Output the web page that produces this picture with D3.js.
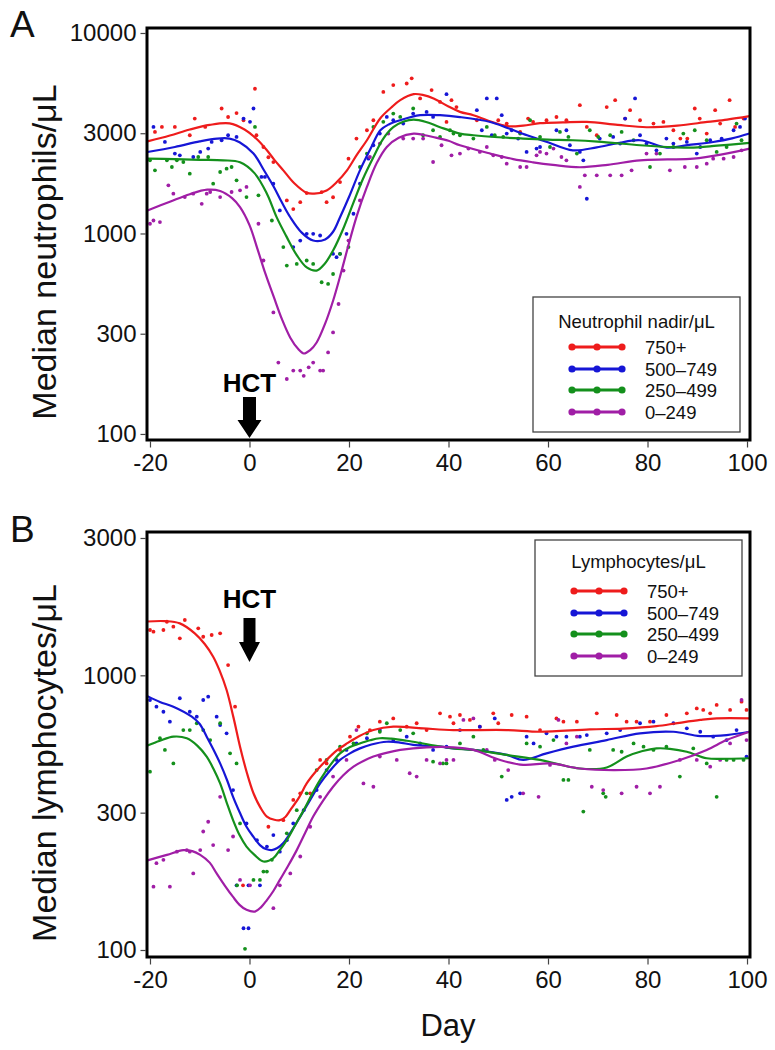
<!DOCTYPE html>
<html><head><meta charset="utf-8">
<script src="https://cdn.jsdelivr.net/npm/d3@7"></script>
<style>
html,body{margin:0;padding:0;background:#fff;}
svg{display:block;font-family:"Liberation Sans",Arial,Helvetica,sans-serif;}
</style></head><body>
<svg id="chart" width="775" height="1050"></svg>
<script>
// ---------------- DATA ----------------
const dayTicks = [-20, 0, 20, 40, 60, 80, 100];
const dayTickLabels = ["-20", "0", "20", "40", "60", "80", "100"];
const yTicksA = [100, 316.23, 1000, 3162.3, 10000];
const yTickLabelsA = ["100", "300", "1000", "3000", "10000"];
const yTicksB = [100, 316.23, 1000, 3162.3];
const yTickLabelsB = ["100", "300", "1000", "3000"];
const groups = ["750+", "500–749", "250–499", "0–249"];
const legendTitleA = "Neutrophil nadir/μL";
const legendTitleB = "Lymphocytes/μL";

// Panel A: neutrophils, smoothed curves [day, median/μL]
const neutLine750 = [[-20.5,2880],[-16,3080],[-12,3300],[-8,3480],[-4,3540],[-1,3300],[1.5,2950],[3.5,2600],[5,2330],[6.8,2065],[9,1780],[11.5,1595],[13,1580],[15.5,1640],[17.5,1800],[19.6,2065],[21.5,2450],[23.6,2917],[26.3,3758],[28.5,4250],[30.3,4624],[33,4955],[35,4900],[37,4715],[40,4300],[42.3,4041],[45,3890],[48,3650],[51.8,3428],[55,3450],[58.4,3548],[63,3580],[67.8,3600],[74,3480],[79.8,3388],[86,3450],[92,3600],[96,3700],[100.5,3850]];
const neutLine500 = [[-20.5,2550],[-15,2700],[-10,2880],[-6.5,2975],[-4,2975],[-2,2850],[0.8,2503],[3,2050],[4.9,1706],[6.5,1430],[8.2,1205],[10.5,1010],[12.8,922],[15.2,934],[16.8,1020],[18.2,1205],[20,1520],[22.2,2065],[24.5,2700],[26.3,3273],[28,3500],[30.3,3672],[34.3,3890],[38.3,3890],[42.3,3808],[48.4,3600],[52,3350],[55.8,3090],[60,2850],[65,2600],[69.8,2690],[74,2820],[78.5,2917],[83.9,2680],[88,2760],[93.2,2860],[97,2980],[100.5,3151]];
const neutLine250 = [[-20.5,2362],[-15,2350],[-10,2330],[-5.3,2317],[-1.9,2265],[1,2000],[3.5,1580],[5.5,1200],[7.5,959],[9.5,780],[11.5,677],[13.5,653],[15,700],[16.8,822],[18.8,1050],[20.8,1406],[22.8,1870],[24.9,2400],[26.8,2950],[28.9,3390],[31,3620],[33,3700],[35.5,3600],[38.3,3390],[42.3,3150],[45,3090],[50,3020],[55,2975],[60,2940],[65,2917],[70,2870],[78.5,2754],[84,2700],[88.5,2680],[94,2740],[100.5,2830]];
const neutLine0 = [[-20.5,1303],[-16,1440],[-12,1570],[-8.5,1653],[-5.9,1630],[-3.5,1500],[-1.9,1352],[0,1100],[1.5,853],[3.2,630],[4.9,481],[6.5,375],[8.2,302],[9.8,265],[10.9,252],[12.2,262],[13.5,286],[15.2,355],[16.8,462],[18.2,610],[19.6,822],[21.6,1230],[23.6,1706],[25.6,2250],[27.6,2700],[30,3000],[33,3150],[35,3100],[36.9,3030],[40,2900],[42.3,2754],[48.4,2503],[53,2350],[57,2265],[61,2200],[66.4,2140],[72,2200],[78.5,2317],[84,2340],[89.2,2362],[95,2480],[100.5,2650]];

// Panel A: daily medians (points)
const neutPts750 = [[-19,3210],[-17.6,3400],[-15,3400],[-12,3090],[-11,3740],[-8.9,3400],[-5.6,4200],[-4.3,3810],[-2.6,3985],[-1.2,3670],[1.1,5270],[1.4,3090],[2.8,2700],[3.8,2400],[4.8,2270],[7.5,1462],[8.8,1323],[10.2,1433],[11.5,1590],[14.5,1609],[15.5,1433],[16.8,1516],[18.2,1804],[19.9,2362],[21.5,2975],[23.6,3273],[24.9,3670],[26.9,5085],[28.9,5500],[31.6,5600],[32.6,5940],[34.3,4715],[36.6,5190],[38.3,4530],[40.6,4624],[41.6,4270],[39.6,3600],[45.7,3670],[50,3670],[51.7,3535],[54.4,3210],[56,3740],[57,3600],[59.7,3670],[61.7,3810],[63.7,3670],[66.4,4365],[67.8,3400],[69.8,3090],[71.8,4270],[73.5,4624],[75.5,3740],[76.5,4120],[78.5,3670],[81.2,3535],[83.2,3600],[85.2,3273],[86.6,2975],[88,2975],[89.5,4200],[90.5,3740],[91.9,3150],[93.6,4120],[94.6,3535],[96.5,4624],[97.6,3400],[99.3,3740]];
const neutPts500 = [[-19.3,3400],[-17,2862],[-15,2503],[-14,2455],[-11.3,2407],[-9.9,2550],[-8.3,2650],[-7.6,2862],[-5.6,2917],[-4.3,3090],[-2.6,3030],[-1.2,3740],[0.1,3605],[0.8,4200],[2.4,1914],[3.1,1914],[4.8,1772],[6.1,1303],[8.8,855],[10.2,922],[11.5,996],[12.8,996],[14.2,977],[16.8,791],[17.5,762],[18.2,791],[19.5,996],[20.9,1254],[22.2,1772],[23.9,2362],[24.9,2754],[26.2,3150],[27.6,3815],[28.9,3670],[30.9,3535],[32.9,3965],[35.6,4041],[36.9,3815],[39.6,4955],[45.7,4120],[46.7,3273],[47.7,4715],[48.7,3090],[49.7,4715],[50.7,3890],[51.7,3150],[52.7,3273],[54,2975],[55.7,2550],[57.7,2650],[58.4,2700],[61.7,3273],[63.7,3273],[64.4,2754],[66.4,2550],[67.1,2317],[67.8,1490],[70.4,2975],[73.1,3030],[74.5,2808],[75.5,3740],[77.5,4715],[78.5,3090],[79.8,2808],[81.8,2600],[83.8,2975],[85.2,2808],[87.9,2862],[89.9,2503],[90.6,2700],[92.6,2917],[94.9,2975],[97.3,3273],[98.6,3400],[99.6,3740]];
const neutPts250 = [[-20,2317],[-19,2065],[-16.6,2317],[-15.6,2146],[-14.6,2317],[-13.3,2272],[-12,1988],[-10.3,2407],[-8.3,2407],[-7.3,1772],[-5.9,2026],[-4.6,2105],[-3.6,2146],[-2.6,1841],[-0.6,1519],[1.1,3400],[1.8,1549],[4.5,1161],[6.8,855],[7.5,692],[9.5,705],[11.5,733],[12.8,705],[14.5,571],[15.8,560],[16.8,628],[18.2,791],[19.9,855],[22.2,2146],[23.6,2503],[24.9,3400],[26.9,3605],[28.9,3965],[30.3,3815],[32.9,4200],[34.9,3090],[36.9,3273],[38.3,3030],[41,3150],[40.3,3273],[42.3,3090],[45,2975],[47.7,3400],[49.3,3090],[51,3030],[54.4,3150],[56.4,3670],[58.4,3030],[60.4,2700],[62.4,3210],[64.1,3030],[65.8,2503],[68.4,3273],[70.1,3030],[72.5,3090],[74.8,3210],[77.2,2917],[80.5,2146],[82.5,2503],[85.2,2700],[87.2,3150],[89.5,3273],[91.9,2917],[93.9,2550],[95.9,2700],[97.9,3535],[98.9,2917]];
const neutPts0 = [[-20,1118],[-19.3,1161],[-18,1140],[-16.3,1738],[-15.3,1580],[-13,1519],[-11.3,1580],[-9.6,1406],[-8.6,1580],[-7.9,1610],[-5.9,1519],[-3.6,1610],[-1.9,1641],[-0.6,1706],[1.8,1118],[2.8,733],[4.8,404],[5.8,227],[7.5,188],[8.8,207],[10.2,207],[10.9,195],[11.9,215],[12.8,227],[14.2,207],[14.8,207],[15.8,255],[16.8,321],[17.9,445],[18.9,653],[19.9,922],[22.2,1462],[24.2,2407],[26.2,2808],[27.9,3150],[30.9,2975],[32.9,2975],[34.9,2975],[36.9,2272],[38.6,2754],[40.6,2455],[42.3,2503],[44,2650],[46.3,2550],[47.7,2700],[49,2455],[50.7,2407],[51.7,2230],[54.4,2146],[55.7,2146],[57.7,2455],[58.4,2550],[59.7,2503],[61.1,2650],[62.7,2407],[63.7,2317],[66.4,1706],[67.4,1950],[69.8,1950],[72.5,1950],[74.8,1950],[76.8,2065],[79.8,2503],[81.8,2503],[84.5,2065],[87.5,2146],[89.9,2146],[91.9,2230],[93.2,2362],[95.3,2362],[97.3,2407],[98.9,2600]];

// Panel B: lymphocytes, smoothed curves
const lymphLine750 = [[-20.5,1570],[-17,1575],[-14,1546],[-11,1422],[-9,1300],[-7.3,1169],[-6,1040],[-4.6,884],[-3.2,700],[-1.9,550],[-0.5,440],[0.8,372],[2.2,330],[3.5,306],[5,298],[6.1,297],[7.2,305],[8.2,323],[10,360],[11.5,404],[13.5,450],[15.5,492],[17.5,532],[19.6,565],[22,600],[24.9,632],[28.9,650],[34.9,641],[41,632],[51.7,632],[58.4,623],[68.4,636],[75,640],[81.8,653],[86,670],[90.6,688],[93.9,697],[100.5,697]];
const lymphLine500 = [[-20.5,840],[-18,800],[-15.3,769],[-11.6,707],[-10,665],[-8.6,598],[-7.2,535],[-5.9,478],[-4.5,415],[-3.3,361],[-2,318],[-0.6,281],[0.8,258],[2.1,241],[3.3,233],[4.5,231],[5.6,235],[6.8,245],[8.5,272],[10.2,306],[12.2,352],[14.2,404],[16.2,450],[18.2,492],[20.2,520],[22.2,542],[24.5,560],[27.6,573],[30,570],[32.9,558],[38.3,550],[41,542],[45,535],[51.7,513],[55,492],[59.7,520],[65.1,550],[71.8,581],[78.5,615],[85.2,623],[90.6,601],[95.9,606],[100.5,623]];
const lymphLine250 = [[-20.5,555],[-18,578],[-15.3,598],[-12.6,590],[-10.5,555],[-8.6,506],[-7.2,455],[-5.9,404],[-4.6,345],[-3.3,297],[-2,262],[-0.6,238],[1,222],[2.8,210],[4.8,216],[6,230],[7.5,251],[9.2,285],[10.9,323],[12.5,367],[14.2,416],[16.2,470],[18.2,520],[20.2,548],[22.2,565],[24.2,580],[26.2,590],[28.5,588],[31.6,578],[36,560],[41,542],[45,535],[51.7,513],[58.4,492],[62,475],[66.4,458],[71.8,462],[75.8,506],[79,530],[81.8,542],[84.5,540],[87.9,527],[91.9,499],[96,497],[100.5,499]];
const lymphLine0 = [[-20.5,212],[-16.6,222],[-13.3,231],[-11.5,229],[-9.9,222],[-8,208],[-6.6,190],[-5,172],[-3.3,156],[-2,146],[-0.6,140],[1.1,138],[2.3,143],[3.5,152],[4.8,164],[6.1,180],[7.8,203],[9.5,231],[11.2,267],[12.8,306],[14.8,350],[16.8,393],[18.8,432],[20.9,465],[22.9,488],[24.9,506],[27.5,522],[30.3,535],[35.6,547],[41,547],[45,535],[50.4,492],[55,472],[60.4,478],[66.4,458],[73.1,452],[79.8,458],[86.5,492],[91.9,535],[95.9,581],[100.5,623]];

// Panel B: daily medians (points)
const lymphPts750 = [[-20,1462],[-19.3,1442],[-17.3,1462],[-16.6,1567],[-15.3,1503],[-14,1364],[-13,1590],[-10.3,1483],[-9.3,1382],[-7.6,1402],[-5.9,1422],[-4.3,1090],[-2.9,769],[-1.3,172],[3.8,281],[6.8,297],[8.8,352],[10.2,372],[12.2,372],[14.2,492],[15.5,478],[18.2,535],[20.2,598],[21.9,650],[24.2,632],[26.2,678],[28.9,697],[31.6,650],[33.6,669],[35.6,632],[38.3,727],[41,669],[40.3,707],[42.3,717],[44.3,688],[46.3,650],[49,727],[50,669],[52.7,717],[55.7,707],[58.4,632],[61.7,697],[63.1,678],[65.8,678],[69.8,727],[73.8,717],[75.8,678],[77.8,678],[80.5,678],[83.8,717],[87.9,727],[89.9,758],[91.2,748],[92.6,727],[93.9,780],[96.6,748],[98.9,802],[99.9,748]];
const lymphPts500 = [[-20,813],[-18.7,769],[-17.3,737],[-16,678],[-14,825],[-12,737],[-10.6,707],[-9.3,813],[-8.3,836],[-6.6,707],[-5.9,659],[-4.6,615],[-3.3,382],[-2.6,172],[-0.6,289],[-1.2,120],[-0.2,120],[-0.2,172],[1.5,251],[2.1,172],[3.5,238],[4.8,262],[6.1,228],[7.5,251],[8.8,289],[10.9,323],[13.5,382],[15.5,452],[17.5,492],[19.5,535],[21.5,565],[23.6,590],[26.2,632],[28.9,581],[31.6,598],[34.3,565],[36.9,535],[39.6,550],[42.3,632],[46.3,650],[49.3,697],[51.7,352],[52.7,361],[54.4,372],[55.7,598],[57.1,565],[59.7,615],[61.7,598],[63.7,598],[66.4,598],[67.8,606],[71.8,615],[74.5,632],[78.5,669],[81.2,678],[85.2,669],[87.9,641],[90.6,623],[93.2,598],[95.9,581],[97.9,632],[99.9,506]];
const lymphPts250 = [[-20,446],[-18,590],[-17,535],[-15.3,478],[-13.3,632],[-12,632],[-10.6,669],[-9.3,632],[-7.9,581],[-5.9,669],[-3.9,520],[-2.6,478],[-2.5,172],[-1.9,289],[-0.9,101],[0.8,180],[2.1,180],[2.8,193],[3.5,193],[4.5,213],[7.5,266],[9.5,323],[11.5,372],[13.5,452],[15.5,492],[18.2,550],[20.9,565],[23.6,615],[26.2,623],[27.6,669],[30.3,632],[32.9,615],[36.9,485],[38.9,478],[39.6,478],[42.3,565],[45,598],[47,535],[50.7,428],[55.7,565],[58.4,550],[61.1,581],[63.1,416],[64.1,416],[67.1,319],[68.4,535],[71.1,372],[71.6,361],[73.1,535],[74.8,527],[77.2,565],[79.2,550],[81.2,535],[83.8,550],[86.5,428],[89.2,542],[91.9,478],[93.9,361],[95.9,492],[97.3,492],[99.3,492]];
const lymphPts0 = [[-19.3,170],[-18.7,207],[-17.3,213],[-16,170],[-14.6,228],[-12.6,231],[-12,228],[-11.3,190],[-9.9,231],[-9.3,270],[-8.3,293],[-7.3,241],[-5.9,361],[-4.3,231],[-3.3,259],[-1.9,180],[0.1,172],[4.8,142],[6.1,172],[8.2,190],[10.2,219],[12.2,281],[14.2,361],[16.8,428],[19.5,492],[21.5,632],[22.9,404],[24.9,393],[26.2,506],[29.6,492],[32.2,440],[33.6,428],[35.6,492],[38.3,478],[39.6,492],[41,492],[43,688],[45,697],[47.7,535],[49.3,492],[52,452],[55,372],[58.1,361],[60.4,472],[62.1,688],[63.7,565],[65.8,598],[68.8,393],[71.1,382],[74.8,372],[77.8,393],[80.5,372],[82.5,393],[86.5,492],[89.9,492],[92.6,465],[94.6,492],[96.6,565],[98.9,813],[99.9,581]];

// ---------------- STYLE / LAYOUT ----------------
const colors = ["#ee1c1c", "#1616d6", "#14901c", "#a01ea6"];
const FONT = '"Liberation Sans", Arial, Helvetica, sans-serif';
const svg = d3.select("#chart");

const x = d3.scaleLinear().domain([-20.6, 100.6]).range([147, 750]);

const panels = [
  { letter: "A", top: 28, bottom: 440, yDomain: [93.3, 10590],
    ticks: yTicksA, tickLabels: yTickLabelsA, yTitle: "Median neutrophils/μL", titleY: 252,
    lines: [neutLine750, neutLine500, neutLine250, neutLine0],
    pts: [neutPts750, neutPts500, neutPts250, neutPts0],
    legend: { x: 533, y: 297, w: 207, h: 135, title: legendTitleA, titleY: 328, rows: [347, 369, 390, 412] },
    hct: { textY: 392, shaftTop: 397, headTop: 420, tip: 438, shaftHalf: 6.5, headHalf: 12 },
    letterY: 37 },
  { letter: "B", top: 532, bottom: 957, yDomain: [94.3, 3325],
    ticks: yTicksB, tickLabels: yTickLabelsB, yTitle: "Median lymphocytes/μL", titleY: 763,
    lines: [lymphLine750, lymphLine500, lymphLine250, lymphLine0],
    pts: [lymphPts750, lymphPts500, lymphPts250, lymphPts0],
    legend: { x: 535, y: 540, w: 207, h: 136, title: legendTitleB, titleY: 568, rows: [591, 613, 634, 656] },
    hct: { textY: 608, shaftTop: 618, headTop: 642, tip: 662, shaftHalf: 6, headHalf: 10.5 },
    letterY: 542 }
];

panels.forEach((p, pi) => {
  const y = d3.scaleLog().domain(p.yDomain).range([p.bottom, p.top]);
  const g = svg.append("g");
  const clipId = "clip" + pi;
  svg.append("defs").append("clipPath").attr("id", clipId)
    .append("rect").attr("x", 147).attr("y", p.top).attr("width", 603).attr("height", p.bottom - p.top);

  // y axis
  const ya = g.append("g").attr("transform", "translate(145.5,0)")
    .call(d3.axisLeft(y).tickValues(p.ticks).tickFormat((d, i) => p.tickLabels[i]).tickSize(5).tickPadding(4));
  ya.select(".domain").remove();
  ya.selectAll(".tick line").attr("stroke", "#444").attr("stroke-width", 1.2);
  ya.selectAll(".tick text").attr("font-family", FONT).attr("font-size", 24).attr("fill", "#111");

  // x axis
  const xa = g.append("g").attr("transform", `translate(0,${p.bottom + 1.5})`)
    .call(d3.axisBottom(x).tickValues(dayTicks).tickFormat((d, i) => dayTickLabels[i]).tickSize(6).tickPadding(6));
  xa.select(".domain").remove();
  xa.selectAll(".tick line").attr("stroke", "#444").attr("stroke-width", 1.2);
  xa.selectAll(".tick text").attr("font-family", FONT).attr("font-size", 24).attr("fill", "#111");

  // data
  const plot = g.append("g").attr("clip-path", `url(#${clipId})`);
  p.pts.forEach((pts, si) => {
    plot.append("g").selectAll("circle").data(pts).join("circle")
      .attr("cx", d => x(d[0])).attr("cy", d => y(d[1])).attr("r", 1.9)
      .attr("fill", colors[si]);
  });
  const line = d3.line().x(d => x(d[0])).y(d => y(d[1])).curve(d3.curveCatmullRom.alpha(0.5));
  p.lines.forEach((ln, si) => {
    plot.append("path").datum(ln).attr("d", line)
      .attr("fill", "none").attr("stroke", colors[si]).attr("stroke-width", 2.2);
  });

  // frame
  g.append("rect").attr("x", 147).attr("y", p.top).attr("width", 603).attr("height", p.bottom - p.top)
    .attr("fill", "none").attr("stroke", "#000").attr("stroke-width", 3);

  // y title
  g.append("text").attr("transform", `translate(56,${p.titleY}) rotate(-90)`)
    .attr("text-anchor", "middle").attr("font-family", FONT).attr("font-size", 34).attr("fill", "#111")
    .text(p.yTitle);

  // panel letter
  g.append("text").attr("x", 10).attr("y", p.letterY).attr("font-family", FONT).attr("font-size", 37)
    .attr("fill", "#111").text(p.letter);

  // HCT annotation
  const x0 = x(0), h = p.hct;
  g.append("text").attr("x", x0).attr("y", h.textY).attr("text-anchor", "middle")
    .attr("font-family", FONT).attr("font-weight", "bold").attr("font-size", 26).attr("fill", "#000").text("HCT");
  g.append("path").attr("fill", "#000").attr("d",
    `M${x0 - h.shaftHalf},${h.shaftTop}L${x0 + h.shaftHalf},${h.shaftTop}L${x0 + h.shaftHalf},${h.headTop}` +
    `L${x0 + h.headHalf},${h.headTop}L${x0},${h.tip}L${x0 - h.headHalf},${h.headTop}L${x0 - h.shaftHalf},${h.headTop}Z`);

  // legend
  const L = p.legend;
  const lg = g.append("g");
  lg.append("rect").attr("x", L.x).attr("y", L.y).attr("width", L.w).attr("height", L.h)
    .attr("fill", "#fff").attr("stroke", "#444").attr("stroke-width", 1.3);
  lg.append("text").attr("x", L.x + L.w / 2).attr("y", L.titleY).attr("text-anchor", "middle")
    .attr("font-family", FONT).attr("font-size", 18.5).attr("fill", "#111").text(L.title);
  groups.forEach((gname, i) => {
    const ry = L.rows[i];
    const x1 = L.x + 39, x2 = L.x + 89;
    lg.append("line").attr("x1", x1).attr("x2", x2).attr("y1", ry).attr("y2", ry)
      .attr("stroke", colors[i]).attr("stroke-width", 3);
    [x1, (x1 + x2) / 2, x2].forEach(cx => lg.append("circle").attr("cx", cx).attr("cy", ry).attr("r", 3.6).attr("fill", colors[i]));
    lg.append("text").attr("x", L.x + 112).attr("y", ry + 6.5).attr("font-family", FONT).attr("font-size", 18.5)
      .attr("fill", "#111").text(gname);
  });
});

// x title
svg.append("text").attr("x", 448).attr("y", 1036).attr("text-anchor", "middle")
  .attr("font-family", FONT).attr("font-size", 31).attr("fill", "#111").text("Day");
</script>
</body></html>
